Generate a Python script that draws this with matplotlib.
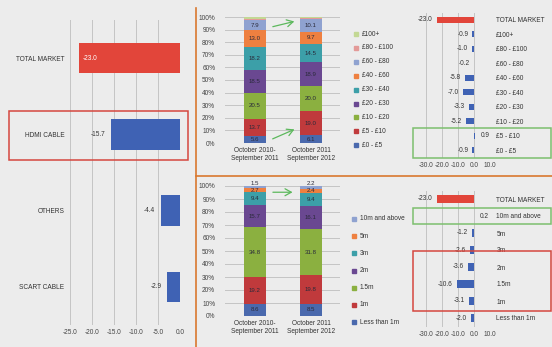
import matplotlib
matplotlib.use('Agg')
import matplotlib.pyplot as plt
from matplotlib.patches import Rectangle
from matplotlib.lines import Line2D

# ---------------- data ----------------
cable_types = ['TOTAL MARKET', 'HDMI CABLE', 'OTHERS', 'SCART CABLE']
cable_change = [-23.0, -15.7, -4.4, -2.9]

periods = ['October 2010-\nSeptember 2011', 'October 2011\nSeptember 2012']

price_bands = ['£0 - £5', '£5 - £10', '£10 - £20', '£20 - £30', '£30 - £40',
               '£40 - £60', '£60 - £80', '£80 - £100', '£100+']
price_share_p1 = [5.6, 13.7, 20.5, 18.5, 18.2, 13.0, 7.9, 1.4, 1.2]
price_share_p2 = [6.1, 19.0, 20.0, 18.9, 14.5, 9.7, 10.1, 0.9, 0.8]

length_bands = ['Less than 1m', '1m', '1.5m', '2m', '3m', '5m', '10m and above']
length_share_p1 = [8.6, 19.2, 34.8, 15.7, 9.4, 2.7, 1.5]
length_share_p2 = [8.5, 19.8, 31.8, 16.1, 9.4, 2.4, 2.2]

price_rows = ['TOTAL MARKET', '£100+', '£80 - £100', '£60 - £80', '£40 - £60',
              '£30 - £40', '£20 - £30', '£10 - £20', '£5 - £10', '£0 - £5']
price_change = [-23.0, -0.9, -1.0, -0.2, -5.8, -7.0, -3.3, -5.2, 0.9, -0.9]

length_rows = ['TOTAL MARKET', '10m and above', '5m', '3m', '2m', '1.5m', '1m', 'Less than 1m']
length_change = [-23.0, 0.2, -1.2, -2.6, -3.6, -10.6, -3.1, -2.0]

# ---------------- style ----------------
plt.rcParams['font.family'] = ['Liberation Sans', 'DejaVu Sans']
FS = 4.7
TXT = '#333333'
GRID = '#c4c4c4'
RED = '#e2453a'
BLUE = '#3f62b4'
ORANGE_LINE = '#d9782f'
BOX_RED = '#d5473f'
BOX_GREEN = '#7dbf6e'
ARROW_GREEN = '#5cb85c'

price_colors = ['#4a69ad', '#c03a3c', '#8bb040', '#6a4891', '#3c9fa8',
                '#ee8040', '#8fa2d0', '#e39a98', '#c3d894']
length_colors = ['#4a69ad', '#c03a3c', '#8bb040', '#6a4891', '#3c9fa8',
                 '#ee8040', '#8fa2d0']

W, H = 552, 347
fig = plt.figure(figsize=(W / 100, H / 100), dpi=100)
fig.patch.set_facecolor('#ececec')


def axrect(x0, y0, x1, y1):
    return [x0 / W, 1 - y1 / H, (x1 - x0) / W, (y1 - y0) / H]


def clean(ax):
    ax.set_facecolor('none')
    for s in ax.spines.values():
        s.set_visible(False)
    ax.tick_params(length=0, labelsize=FS, colors='#444444')


# ---------------- left: change by cable type ----------------
axL = fig.add_axes(axrect(70, 20, 180, 325))
clean(axL)
yL = list(range(len(cable_types)))
colsL = [RED] + [BLUE] * (len(cable_types) - 1)
axL.barh(yL, cable_change, height=0.4, color=colsL, zorder=2)
axL.set_xlim(-25, 0)
axL.set_ylim(len(cable_types) - 0.5, -0.5)
axL.set_xticks([-25, -20, -15, -10, -5, 0])
axL.set_xticklabels([f'{v:.1f}' for v in [-25, -20, -15, -10, -5, 0]])
axL.set_yticks(yL)
axL.set_yticklabels(cable_types, color=TXT)
axL.tick_params(axis='y', pad=4)
axL.tick_params(axis='x', pad=3)
axL.grid(axis='x', color=GRID, lw=0.7, zorder=0)
for i, v in enumerate(cable_change):
    if i == 0:
        axL.annotate(f'{v:.1f}', (v, i), xytext=(3, 0), textcoords='offset points',
                     ha='left', va='center', fontsize=FS, color='white', zorder=3)
    else:
        axL.annotate(f'{v:.1f}', (v, i), xytext=(-4, 0), textcoords='offset points',
                     ha='right', va='center', fontsize=FS, color=TXT, zorder=3)


# ---------------- middle: stacked 100% bars ----------------
def stacked(rect, s1, s2, colors, label_min):
    ax = fig.add_axes(axrect(*rect))
    clean(ax)
    xs = list(range(len(periods)))
    series = [s1, s2]
    tots = [sum(s) for s in series]
    bottoms = [0.0, 0.0]
    n = len(s1)
    for i in range(n):
        hs = [series[j][i] / tots[j] * 100 for j in xs]
        ax.bar(xs, hs, bottom=bottoms, width=0.39, color=colors[i], zorder=2)
        for j in xs:
            v = series[j][i]
            if v >= label_min:
                yc = bottoms[j] + hs[j] / 2
                if i == n - 1 and hs[j] < 4:
                    yc = 102.3  # thin top slice: label sits on the bar top
                ax.text(j, yc, f'{v:.1f}', ha='center', va='center',
                        fontsize=4.4, color='#2a2a3a', zorder=3, clip_on=False)
        bottoms = [bottoms[j] + hs[j] for j in xs]
    ax.set_xlim(-0.536, 1.518)
    ax.set_ylim(0, 100)
    ax.set_yticks(range(0, 101, 10))
    ax.set_yticklabels([f'{t}%' for t in range(0, 101, 10)])
    ax.tick_params(axis='y', pad=7)
    ax.set_xticks(xs)
    ax.set_xticklabels(periods, fontsize=FS, color=TXT, linespacing=1.15)
    ax.tick_params(axis='x', pad=3)
    ax.grid(axis='y', color=GRID, lw=0.7, zorder=0)
    return ax


axMT = stacked((225, 17, 340, 143), price_share_p1, price_share_p2, price_colors, 3)
axMB = stacked((225, 186, 340, 316), length_share_p1, length_share_p2, length_colors, 1)

arrow_kw = dict(arrowstyle='->,head_length=0.45,head_width=0.25', color=ARROW_GREEN, lw=0.9)
axMT.annotate('', xy=(0.75, 97), xytext=(0.27, 91.8), arrowprops=arrow_kw, zorder=4)
axMT.annotate('', xy=(0.75, 11.7), xytext=(0.27, 2.4), arrowprops=arrow_kw, zorder=4)
axMB.annotate('', xy=(0.72, 95.2), xytext=(0.27, 95.2), arrowprops=arrow_kw, zorder=4)


# legends (manual, drawn in figure coordinates)
def legend(labels, colors, x_marker, y_top, step):
    n = len(labels)
    for k in range(n):
        idx = n - 1 - k
        yc = y_top + k * step
        fig.patches.append(Rectangle(((x_marker - 2) / W, 1 - (yc + 2) / H), 4 / W, 4 / H,
                                     transform=fig.transFigure, color=colors[idx]))
        fig.text((x_marker + 6) / W, 1 - yc / H, labels[idx], fontsize=FS, color=TXT,
                 ha='left', va='center')


legend(price_bands, price_colors, 356, 34, 13.9)
legend(length_bands, length_colors, 354, 219, 17.2)


# ---------------- right: change by price band / length ----------------
def diverging(rect, rows, vals):
    ax = fig.add_axes(axrect(*rect))
    clean(ax)
    ys = list(range(len(rows)))
    cols = [RED] + [BLUE] * (len(rows) - 1)
    ax.barh(ys, vals, height=0.42, color=cols, zorder=2)
    ax.set_xlim(-30, 10)
    ax.set_ylim(len(rows) - 0.5, -0.5)
    ax.set_xticks([-30, -20, -10, 0, 10])
    ax.set_xticklabels([f'{t:.1f}' for t in [-30, -20, -10, 0, 10]])
    ax.tick_params(axis='x', pad=3)
    ax.yaxis.tick_right()
    ax.set_yticks(ys)
    ax.set_yticklabels(rows, color=TXT)
    ax.tick_params(axis='y', pad=4.5)
    ax.grid(axis='x', color=GRID, lw=0.7, zorder=0)
    for i, v in enumerate(vals):
        if v < 0:
            ax.annotate(f'{v:.1f}', (v, i), xytext=(-3, 0), textcoords='offset points',
                        ha='right', va='center', fontsize=FS, color=TXT, zorder=3)
        else:
            ax.annotate(f'{v:.1f}', (v, i), xytext=(4, 0), textcoords='offset points',
                        ha='left', va='center', fontsize=FS, color=TXT, zorder=3)
    return ax


axRT = diverging((425.7, 12.5, 490, 157.5), price_rows, price_change)
axRB = diverging((425.7, 190.5, 490, 326.5), length_rows, length_change)

# ---------------- decorations ----------------
fig.add_artist(Line2D([196 / W, 196 / W], [0, 1 - 8 / H], color=ORANGE_LINE, lw=1.2,
                      transform=fig.transFigure))
fig.add_artist(Line2D([196 / W, 1], [1 - 176 / H, 1 - 176 / H], color=ORANGE_LINE, lw=1.2,
                      transform=fig.transFigure))


def box(x0, y0, x1, y1, color):
    fig.patches.append(Rectangle((x0 / W, 1 - y1 / H), (x1 - x0) / W, (y1 - y0) / H,
                                 transform=fig.transFigure, fill=False, ec=color, lw=1.1))


box(9, 111, 188, 160, BOX_RED)
box(413, 128, 551, 158, BOX_GREEN)
box(413, 208, 551, 224, BOX_GREEN)
box(413, 251, 551, 311, BOX_RED)

fig.savefig('out.png', dpi=100, facecolor=fig.get_facecolor())
